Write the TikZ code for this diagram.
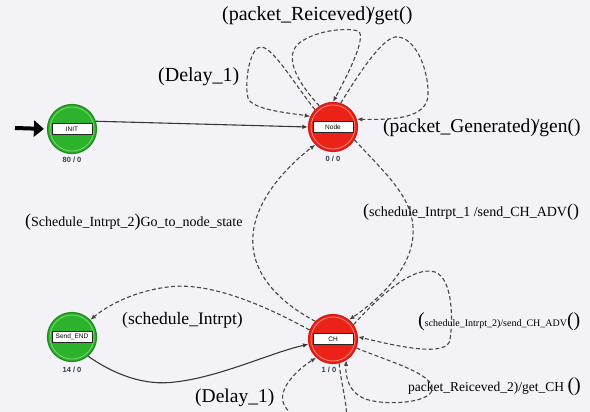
\documentclass[tikz,border=0pt]{standalone}
\usepackage{fontspec}
\setmainfont{Liberation Serif}
\newfontfamily\lsans{Liberation Sans}
\usetikzlibrary{arrows.meta}
\definecolor{bg}{RGB}{243,242,247}
\definecolor{gfill}{RGB}{45,178,45}
\definecolor{gedge}{RGB}{30,140,30}
\definecolor{glight}{RGB}{120,215,110}
\definecolor{rfill}{RGB}{234,34,24}
\definecolor{redge}{RGB}{215,25,20}
\definecolor{rlight}{RGB}{250,130,120}
\definecolor{lc}{RGB}{70,70,70}
\definecolor{lcs}{RGB}{55,55,55}
\definecolor{cnt}{RGB}{50,62,78}
\begin{document}
\begin{tikzpicture}[x=1pt,y=-1pt,
 greenstate/.style={circle, minimum size=49pt, inner sep=0pt, fill=gfill, draw=gedge, line width=1.2pt},
 redstate/.style={circle, minimum size=49pt, inner sep=0pt, fill=rfill, draw=redge, line width=1.2pt},
 namebox/.style={draw=black!85, fill=white, line width=0.8pt, minimum width=40pt, minimum height=11pt, inner sep=0pt, font=\lsans\fontsize{6.5}{6.5}\selectfont},
 count/.style={font=\lsans\bfseries\fontsize{7.5}{7.5}\selectfont, text=cnt},
 tr/.style={draw=lc, line width=1.1pt, dash pattern=on 4pt off 2.5pt, -{Latex[length=5.5pt,width=4.5pt]}},
 trs/.style={draw=lcs, line width=1.1pt, -{Latex[length=5.5pt,width=4.5pt]}},
 lbl/.style={font=\fontsize{20}{20}\selectfont, anchor=west, inner sep=0pt},
]
\fill[bg] (0,0) rectangle (590,412);
\useasboundingbox (0,0) rectangle (590,412);
\clip (0,0) rectangle (590,412);

% states
\node[greenstate] (INIT) at (72,129) {};
\node[redstate] (NodeS) at (333,127) {};
\node[greenstate] (SendEND) at (72,337) {};
\node[redstate] (CH) at (333,339) {};
\draw[glight, line width=0.8pt] (INIT.center) circle (22pt);
\draw[glight, line width=0.8pt] (SendEND.center) circle (22pt);
\draw[rlight, line width=0.8pt] (NodeS.center) circle (22pt);
\draw[rlight, line width=0.8pt] (CH.center) circle (22pt);
\node[namebox] (INITname) at (INIT.center) {INIT};
\node[namebox] (Nodename) at (NodeS.center) {Node};
\node[namebox] (SEname) at (SendEND.center) {Send\_END};
\node[namebox] (CHname) at (CH.center) {CH};
\node[count] (c1) at (72,160) {80 / 0};
\node[count] (c2) at (333,159) {0 / 0};
\node[count] (c3) at (72,370) {14 / 0};
\node[count] (c4) at (329,370) {1 / 0};

% start arrow
\coordinate (start) at (15,128);
\draw[black, line width=4pt, shorten >=3pt, -{Triangle[length=10pt,width=16pt]}] (start) -- (INIT.west);

% transitions
\draw[trs] (INIT.18) -- (NodeS.180);
\draw[tr] (NodeS.136) .. controls (295,85) and (275,50) .. (262,47) .. controls (250,45) and (244,82) .. (248,98) .. controls (252,110) and (290,113) .. (NodeS.155);
\draw[tr] (NodeS.123) .. controls (300,85) and (284,60) .. (297,45) .. controls (312,31) and (345,27) .. (358,31) .. controls (368,36) and (345,80) .. (NodeS.90);
\draw[tr] (NodeS.72) .. controls (355,80) and (380,40) .. (395,37) .. controls (415,35) and (429,70) .. (428,95) .. controls (427,118) and (395,120) .. (NodeS.18);
\draw[tr] (NodeS.-31) .. controls (390,178) and (415,200) .. (413,235) .. controls (411,270) and (378,300) .. (CH.50);
\draw[tr] (CH.135) .. controls (275,300) and (250,270) .. (253,235) .. controls (256,195) and (295,160) .. (NodeS.225);
\draw[tr] (CH.159) .. controls (255,300) and (205,282) .. (168,287) .. controls (135,291) and (108,305) .. (SendEND.43);
\draw[trs] (SendEND.-50) .. controls (115,375) and (145,386) .. (175,382) .. controls (220,377) and (270,353) .. (CH.192);
\draw[tr] (CH.35) .. controls (385,290) and (415,266) .. (435,272) .. controls (453,279) and (453,320) .. (450,340) .. controls (447,357) and (400,347) .. (CH.5);
\draw[tr] (CH.-21) .. controls (390,362) and (435,374) .. (432,390) .. controls (429,404) and (380,406) .. (363,398) .. controls (350,392) and (345,378) .. (CH.-58);
\draw[tr] (CH.-76) .. controls (342,390) and (350,412) .. (345,428) .. controls (335,442) and (288,420) .. (283,402) .. controls (279,386) and (300,368) .. (CH.228);

% labels
\node[lbl] (L1) at (222,16) {(packet\_Reiceved)\kern-.15em/get()};
\node[lbl] (L2) at (158,77) {(Delay\_1)};
\node[lbl, font=\fontsize{19.5}{19.5}\selectfont] (L3) at (383,128) {(packet\_Generated)\kern-.15em/gen()};
\node[lbl, font=\fontsize{14}{14}\selectfont] (L4) at (25,222) {{\fontsize{18}{18}\selectfont(}Schedule\_Intrpt\_2{\fontsize{18}{18}\selectfont)}Go\_to\_node\_state};
\node[lbl, font=\fontsize{14}{14}\selectfont] (L5) at (363,212) {{\fontsize{18}{18}\selectfont(}schedule\_Intrpt\_1 /send\_CH\_ADV{\fontsize{18}{18}\selectfont()}};
\node[lbl, font=\fontsize{10}{10}\selectfont] (L6) at (418,322) {{\fontsize{20}{20}\selectfont(}schedule\_Intrpt\_2)/send\_CH\_ADV{\fontsize{20}{20}\selectfont()}};
\node[lbl, font=\fontsize{13.5}{13.5}\selectfont] (L7) at (408,387) {packet\_Reiceved\_2)/get\_CH {\fontsize{20}{20}\selectfont()}};
\node[lbl, font=\fontsize{17.5}{17.5}\selectfont] (L8) at (122,320) {(schedule\_Intrpt)};
\node[lbl, font=\fontsize{19.5}{19.5}\selectfont] (L9) at (195,398) {(Delay\_1)};
\end{tikzpicture}
\end{document}
